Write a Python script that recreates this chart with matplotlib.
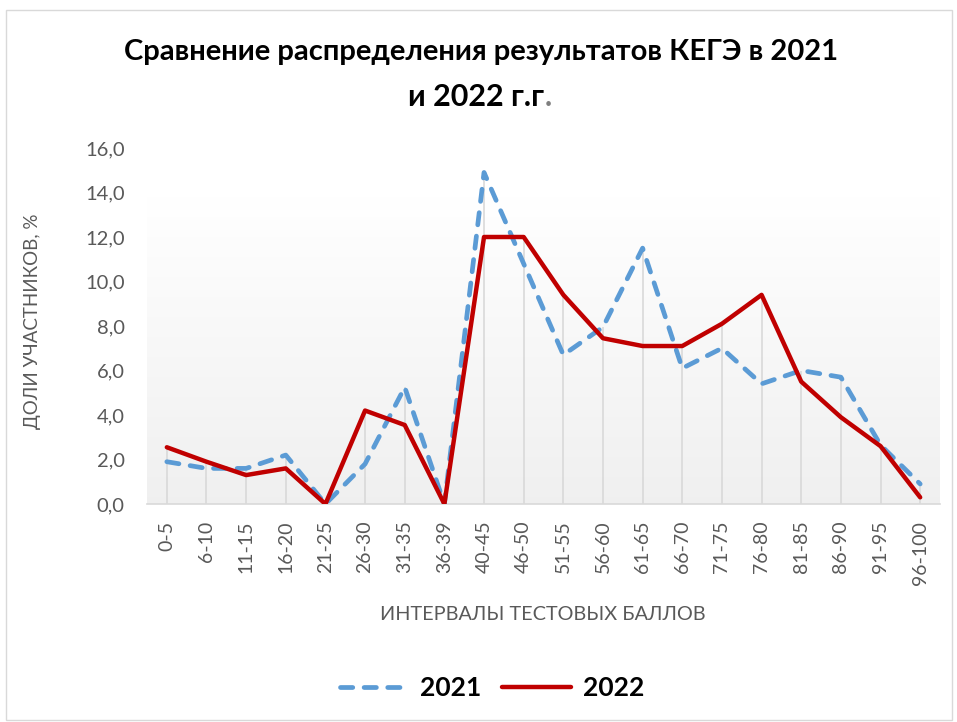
import numpy as np
import matplotlib
matplotlib.use("Agg")
import matplotlib.pyplot as plt
from matplotlib.patches import Rectangle

categories = ["0-5", "6-10", "11-15", "16-20", "21-25", "26-30", "31-35", "36-39",
              "40-45", "46-50", "51-55", "56-60", "61-65", "66-70", "71-75", "76-80",
              "81-85", "86-90", "91-95", "96-100"]
values_2021 = [1.9, 1.6, 1.6, 2.2, 0.0, 1.8, 5.25, 0.0, 14.9, 10.8, 6.7, 7.95,
               11.5, 6.1, 7.0, 5.4, 6.0, 5.7, 2.65, 0.9]
values_2022 = [2.55, 1.9, 1.3, 1.6, 0.0, 4.2, 3.55, 0.0, 12.0, 12.0, 9.4, 7.45,
               7.1, 7.1, 8.1, 9.4, 5.5, 3.9, 2.6, 0.3]
yticks = [0, 2, 4, 6, 8, 10, 12, 14, 16]

plt.rcParams['font.family'] = ['Lato', 'DejaVu Sans']

fig = plt.figure(figsize=(9.57, 7.22), dpi=100)
fig.patches.append(Rectangle((0.006, 0.003), 0.989, 0.983, transform=fig.transFigure,
                             fill=False, edgecolor='#d9d9d9', linewidth=1.0))

ax = fig.add_axes([147/957, 1-504/722, (940-147)/957, (504-148)/722])
x = np.arange(len(categories))
xmin, xmax = -0.5, len(categories) - 0.5
ax.set_xlim(xmin, xmax)
ax.set_ylim(0, 16)

# gradient background
grad = np.linspace(1.0, 0.0, 256).reshape(-1, 1)
top_c = np.array([1.0, 1.0, 1.0])
bot_c = np.array([0.94, 0.94, 0.94])
img = top_c * grad[..., None] + bot_c * (1 - grad[..., None])
img = img.reshape(256, 1, 3)
ax.imshow(img, extent=[xmin, xmax, 0, 13.8], aspect='auto', zorder=0, origin='upper')

# drop lines
for xi, a, b in zip(x, values_2021, values_2022):
    ax.vlines(xi, 0, max(a, b), color='#d9d9d9', linewidth=1.2, zorder=1)

ax.plot(x, values_2021, color='#5B9BD5', linewidth=3.4, linestyle=(0, (2.6, 2.4)),
        dash_capstyle='round', solid_joinstyle='round', zorder=3, label='2021')
ax.plot(x, values_2022, color='#C00000', linewidth=3.2, solid_joinstyle='round',
        solid_capstyle='round', zorder=4, label='2022')

for s in ['top', 'right', 'left']:
    ax.spines[s].set_visible(False)
ax.spines['bottom'].set_color('#d9d9d9')
ax.spines['bottom'].set_linewidth(1.2)

ax.set_yticks(yticks)
ax.set_yticklabels([f"{v:.1f}".replace('.', ',') for v in yticks])
ax.set_xticks(x)
ax.set_xticklabels(categories, rotation=90)
ax.tick_params(axis='y', length=0, pad=16, labelsize=14.5, labelcolor='#595959')
ax.tick_params(axis='x', length=0, pad=12, labelsize=14, labelcolor='#595959')

fig.text(33/957, 1-321/722, "ДОЛИ УЧАСТНИКОВ, %", rotation=90, ha='center', va='center',
         fontsize=13.5, color='#595959')
fig.text(543/957, 1-614/722, "ИНТЕРВАЛЫ ТЕСТОВЫХ БАЛЛОВ", ha='center', va='center',
         fontsize=14.3, color='#595959')

fig.text(481/957, 1-52/722, "Сравнение распределения результатов КЕГЭ в 2021",
         ha='center', va='center', fontsize=21, fontweight='bold', color='black')
fig.text(544/957, 1-97/722, "и 2022 г.г", ha='right', va='center', fontsize=22,
         fontweight='bold', color='black')
fig.text(545/957, 1-97/722, ".", ha='left', va='center', fontsize=22,
         fontweight='bold', color='#7f7f7f')

leg = fig.legend(loc='center', bbox_to_anchor=(492/957, 1-688/722), ncol=2, frameon=False,
                 handlelength=2.6, handletextpad=0.45, columnspacing=0.8,
                 prop={'size': 19, 'weight': 'bold'})

fig.savefig('out.png', dpi=100)
